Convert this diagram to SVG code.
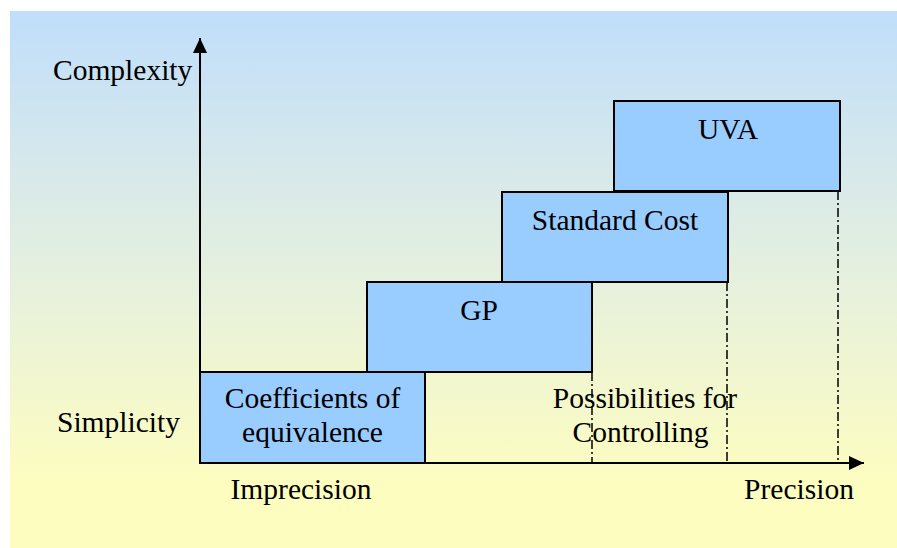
<svg xmlns="http://www.w3.org/2000/svg" width="897" height="548" viewBox="0 0 897 548">
  <defs>
    <linearGradient id="bg" x1="0" y1="0" x2="0" y2="1">
      <stop offset="0" stop-color="#c0defb"/>
      <stop offset="0.5" stop-color="#e6f0de"/>
      <stop offset="0.88" stop-color="#fdfdc0"/>
      <stop offset="1" stop-color="#fdfdc0"/>
    </linearGradient>
    <marker id="arrow" markerUnits="userSpaceOnUse" markerWidth="16" markerHeight="16" refX="15" refY="7" orient="auto" viewBox="0 0 16 14">
      <path d="M0,0 L15,7 L0,14 Z" fill="#000"/>
    </marker>
  </defs>
  <style>
    text { font-family: "Liberation Serif", "Times New Roman", serif; font-size: 29.5px; fill: #000; }
    .c { text-anchor: middle; }
    .box { fill: #99ccff; stroke: #000; stroke-width: 2; }
    .axis { fill: none; stroke: #000; stroke-width: 2; }
    .guide { fill: none; stroke: #000; stroke-width: 1.5; stroke-dasharray: 9 3 2 3; }
  </style>
  <rect x="10" y="11" width="887" height="537" fill="url(#bg)"/>

  <g id="connectors">
    <line class="guide" x1="592" y1="372" x2="592" y2="463"/>
    <line class="guide" x1="727" y1="282" x2="727" y2="463"/>
    <line class="guide" x1="838" y1="191" x2="838" y2="463"/>
    <line id="y-axis" class="axis" x1="200" y1="463" x2="200" y2="38" marker-end="url(#arrow)"/>
    <line id="x-axis" class="axis" x1="200" y1="463" x2="864" y2="463" marker-end="url(#arrow)"/>
  </g>

  <g id="coefficients">
    <rect class="box" x="200" y="372" width="225" height="91"/>
    <text class="c" x="312.5" y="408">Coefficients of</text>
    <text class="c" x="312.5" y="442">equivalence</text>
  </g>
  <g id="gp">
    <rect class="box" x="367" y="282" width="225" height="90"/>
    <text class="c" x="479" y="320">GP</text>
  </g>
  <g id="standard-cost">
    <rect class="box" x="502" y="192" width="226" height="90"/>
    <text class="c" x="615" y="230">Standard Cost</text>
  </g>
  <g id="uva">
    <rect class="box" x="614" y="101" width="226" height="90"/>
    <text class="c" x="728" y="139">UVA</text>
  </g>

  <g id="labels">
    <text x="53" y="80">Complexity</text>
    <text x="57" y="432">Simplicity</text>
    <text class="c" x="301" y="499">Imprecision</text>
    <text class="c" x="799" y="499">Precision</text>
    <text class="c" x="645" y="408">Possibilities for</text>
    <text class="c" x="640.5" y="442">Controlling</text>
  </g>
</svg>
